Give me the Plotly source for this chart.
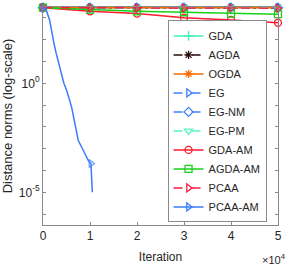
import plotly.graph_objects as go

# ---------------- data ----------------
iters = [0, 10000, 20000, 30000, 40000, 50000]

GDA = [2950, 2945, 2940, 2935, 2930, 2925]
AGDA = [2950, 2935, 2920, 2905, 2890, 2875]
OGDA = [2950, 2945, 2940, 2935, 2930, 2925]
EG = [2950, 2950, 2950, 2950, 2950, 2950]
EG_NM = [2950, 2950, 2950, 2950, 2950, 2950]
EG_PM = [2950, 2950, 2950, 2950, 2950, 2950]
GDA_AM = [2950, 2000, 1580, 1020, 800, 600]
AGDA_AM = [2950, 2400, 2000, 1820, 1580, 1480]
PCAA = [2950, 2900, 2870, 2850, 2830, 2800]

pcaa_am_iters = [0, 700, 1420, 1910, 2340, 2820, 3330, 3890, 4460, 5030,
                 6090, 6790, 7490, 8560, 9620, 10200, 10500]
pcaa_am_vals = [2950, 2240, 776, 191, 66.1, 22.9, 7.94, 2.75, 0.977, 0.479,
                0.0813, 0.0141, 0.00245, 8.5e-4, 2.95e-4, 2.09e-4, 1.0e-5]
pcaa_am_marker_idx = [0, 15]

x_tickvals = [0, 10000, 20000, 30000, 40000, 50000]
x_ticktext = ["0", "1", "2", "3", "4", "5"]
y_major_vals = [1e-5, 1e0]
y_major_text = ["10<sup>-5</sup>", "10<sup>0</sup>"]
y_minor_vals = [1e-6, 1e-4, 1e-3, 1e-2, 1e-1, 1e1, 1e2, 1e3]

# ---------------- styles ----------------
series = [
    ("GDA", GDA, "#40f0b8", "solid", "cross-thin-open"),
    ("AGDA", AGDA, "#2b0a0a", "dashdot", "asterisk-open"),
    ("OGDA", OGDA, "#ff6a00", "solid", "asterisk-open"),
    ("EG", EG, "#3f7fff", "dash", "triangle-right-open"),
    ("EG-NM", EG_NM, "#3f7fff", "dash", "diamond-open"),
    ("EG-PM", EG_PM, "#5af5c0", "dash", "triangle-down-open"),
    ("GDA-AM", GDA_AM, "#ff1a2e", "solid", "circle-open"),
    ("AGDA-AM", AGDA_AM, "#1ad11a", "solid", "square-open"),
    ("PCAA", PCAA, "#ff1a40", "dash", "triangle-right-open"),
]

fig = go.Figure()
for name, vals, color, dash, sym in series:
    fig.add_trace(go.Scatter(
        x=iters, y=vals, name=name, mode="lines+markers", cliponaxis=False,
        line=dict(color=color, width=1.5, dash=dash),
        marker=dict(symbol=sym, size=7, color=color,
                    line=dict(color=color, width=1.3)),
    ))

pc_color = "#3a7cff"
sizes = [7 if i in pcaa_am_marker_idx else 0 for i in range(len(pcaa_am_iters))]
fig.add_trace(go.Scatter(
    x=pcaa_am_iters, y=pcaa_am_vals, name="PCAA-AM", mode="lines+markers",
    legendgroup="pcaaam", showlegend=False, cliponaxis=False,
    line=dict(color=pc_color, width=1.5),
    marker=dict(symbol="triangle-right-open", size=sizes, color=pc_color,
                line=dict(color=pc_color, width=1.3)),
))
fig.add_trace(go.Scatter(
    x=[None], y=[None], name="PCAA-AM", mode="lines+markers",
    legendgroup="pcaaam",
    line=dict(color=pc_color, width=1.5),
    marker=dict(symbol="triangle-right-open", size=7, color=pc_color,
                line=dict(color=pc_color, width=1.3)),
))

font_family = "Liberation Sans, Arial, Helvetica, sans-serif"
axis_color = "#8a8a8a"

fig.update_layout(
    width=289, height=268,
    margin=dict(l=43, r=11, t=7, b=43),
    paper_bgcolor="white", plot_bgcolor="white",
    font=dict(family=font_family, size=12, color="#262626"),
    showlegend=True,
    legend=dict(
        x=0.53, y=0.012, xanchor="left", yanchor="bottom",
        bgcolor="white", bordercolor=axis_color, borderwidth=1,
        font=dict(family=font_family, size=11, color="#262626"),
        tracegroupgap=0,
    ),
    xaxis=dict(
        automargin=False,
        range=[0, 50000], tickvals=x_tickvals, ticktext=x_ticktext,
        ticks="inside", ticklen=3, tickcolor=axis_color,
        showline=True, linecolor=axis_color, linewidth=1, mirror="ticks",
        showgrid=False, zeroline=False,
        title=dict(text="Iteration", standoff=10, font=dict(size=12)),
        tickfont=dict(size=12),
    ),
    yaxis=dict(
        automargin=False,
        type="log", range=[-6.5, 3.5],
        tickvals=y_major_vals, ticktext=y_major_text,
        ticks="inside", ticklen=3, tickcolor=axis_color,
        minor=dict(tickvals=y_minor_vals, ticks="inside", ticklen=3,
                   tickcolor=axis_color, showgrid=False),
        showline=True, linecolor=axis_color, linewidth=1, mirror="ticks",
        showgrid=False, zeroline=False,
        title=dict(text="Distance norms (log-scale)", standoff=4, font=dict(size=13)),
        tickfont=dict(size=12),
    ),
)

fig.add_annotation(
    xref="paper", yref="paper", x=0.985, y=-0.155,
    xanchor="center", yanchor="middle", showarrow=False,
    text="×10<sup>4</sup>", font=dict(size=11, family=font_family, color="#262626"),
)

fig.write_html("out.html", config={"displayModeBar": False},
               post_script="document.body.style.margin='0';")
